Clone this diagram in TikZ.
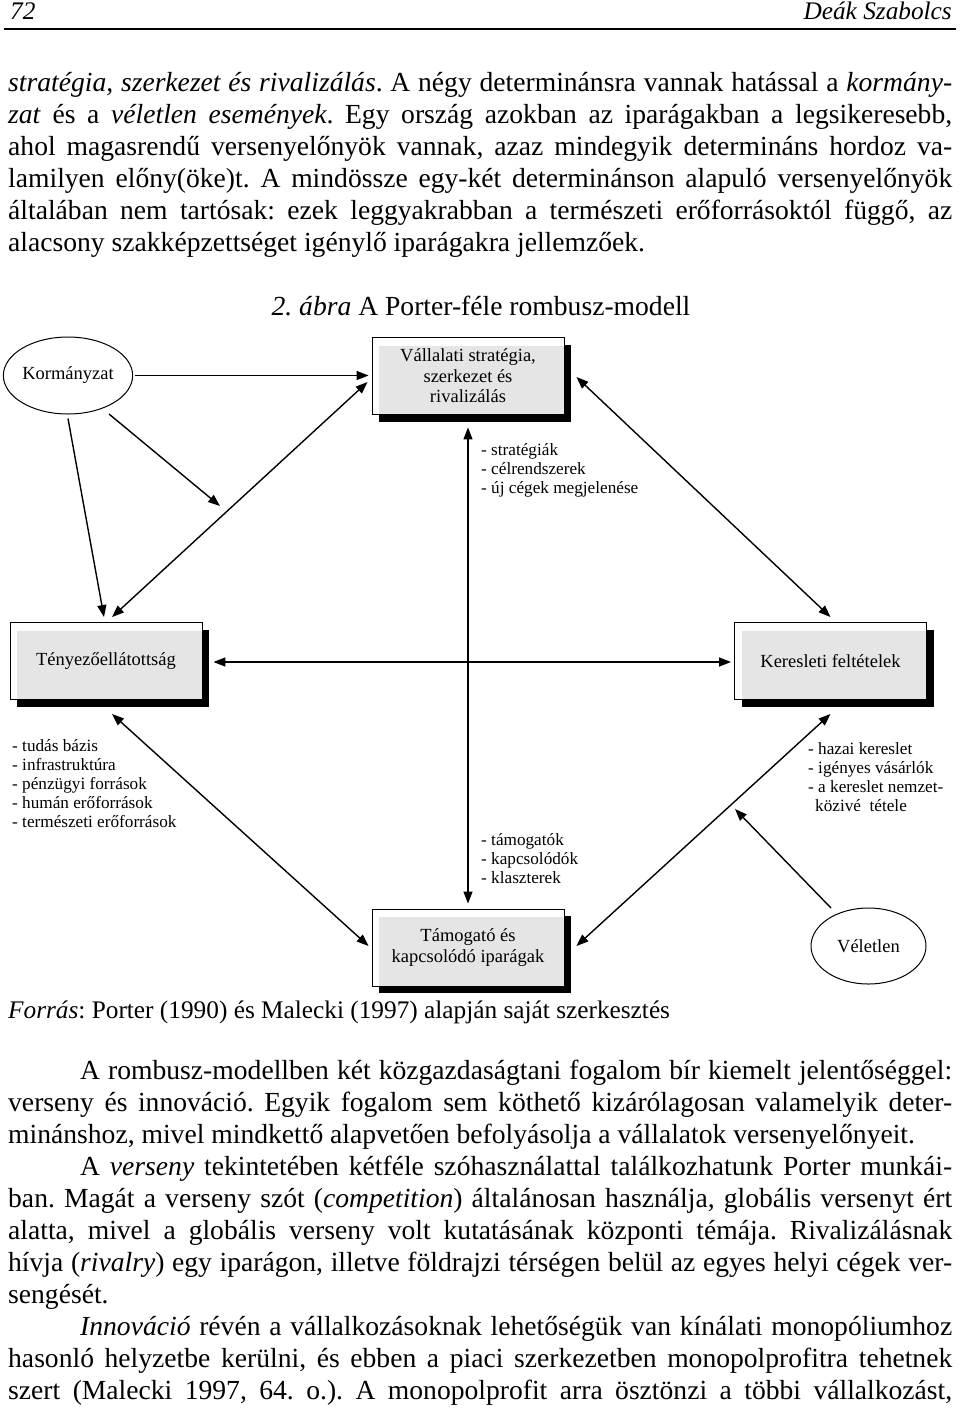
\documentclass[tikz,border=0pt]{standalone}
\usepackage{fontspec}
\setmainfont{Liberation Serif}
\usetikzlibrary{arrows.meta,shapes.geometric,shadows}
\newcommand{\jline}[1]{\makebox[944pt][s]{#1}}
\frenchspacing
\begin{document}
\begin{tikzpicture}[x=1pt,y=-1pt,
  body/.style={anchor=base west, inner sep=0pt, font=\fontsize{27.6}{32}\selectfont\frenchspacing},
  small/.style={anchor=base west, inner sep=0pt, font=\fontsize{25.3}{30}\selectfont\frenchspacing},
  box/.style={draw=black, line width=0.9pt, fill=white, minimum width=192pt, minimum height=77pt,
    inner sep=0pt, align=center, font=\fontsize{18.5}{20.5}\selectfont,
    drop shadow={shadow xshift=7pt, shadow yshift=-7pt, fill=black, opacity=1},
    path picture={\fill[black!10] ([xshift=7pt,yshift=-8pt]path picture bounding box.north west) rectangle (path picture bounding box.south east);}},
  ell/.style={ellipse, draw=black, line width=1pt, fill=white, minimum width=116pt, minimum height=77pt,
    inner sep=0pt, font=\fontsize{18.5}{20.5}\selectfont},
  lst/.style={anchor=base west, inner sep=0pt, align=left, font=\fontsize{17.2}{19.2}\selectfont},
  arr/.style={line width=1.4pt, -{Triangle[length=12pt,width=9pt]}},
  darr/.style={line width=1.4pt, {Triangle[length=12pt,width=9pt]}-{Triangle[length=12pt,width=9pt]}},
]
\useasboundingbox (0,0) rectangle (960,1411);

% header
\node[small, font=\fontsize{25.3}{30}\selectfont\itshape] (pg) at (10,19) {72};
\node[small, anchor=base east, font=\fontsize{25.3}{30}\selectfont\itshape] (au) at (952,19) {Deák Szabolcs};
\draw[line width=1.4pt] (4,29) -- (956,29);

% top paragraph
\node[body] (a1) at (8,91)  {\jline{\textit{stratégia, szerkezet és rivalizálás}. A négy determinánsra vannak hatással a \textit{kormány-}}};
\node[body] (a2) at (8,123) {\jline{\textit{zat} és a \textit{véletlen események}. Egy ország azokban az iparágakban a legsikeresebb,}};
\node[body] (a3) at (8,155) {\jline{ahol magasrendű versenyelőnyök vannak, azaz mindegyik determináns hordoz va-}};
\node[body] (a4) at (8,187) {\jline{lamilyen előny(öke)t. A mindössze egy-két determinánson alapuló versenyelőnyök}};
\node[body] (a5) at (8,219) {\jline{általában nem tartósak: ezek leggyakrabban a természeti erőforrásoktól függő, az}};
\node[body] (a6) at (8,251) {alacsony szakképzettséget igénylő iparágakra jellemzőek.};

% title
\node[body, anchor=base] (title) at (481,315) {\textit{2. ábra} A Porter-féle rombusz-modell};

% diagram nodes
\node[ell] (G) at (68,375.5) {Kormányzat};
\node[box] (V) at (468,376) {Vállalati stratégia,\\szerkezet és\\rivalizálás};
\node[box] (T) at (106,661) {Tényezőellátottság};
\node[box] (D) at (830.5,661) {Keresleti feltételek};
\node[box] (S) at (468,947.5) {Támogató és\\kapcsolódó iparágak};
\node[ell, minimum width=115pt, minimum height=76pt] (C) at (868.5,946) {Véletlen};

% lists (base anchor = baseline of last line)
\node[lst] (l1) at (481,493.4) {- stratégiák\\- célrendszerek\\- új cégek megjelenése};
\node[lst] (l2) at (12,827.8) {- tudás bázis\\- infrastruktúra\\- pénzügyi források\\- humán erőforrások\\- természeti erőforrások};
\node[lst] (l3) at (808,811.6) {- hazai kereslet\\- igényes vásárlók\\- a kereslet nemzet-\\\hspace*{7pt}közivé\ \ tétele};
\node[lst] (l4) at (481,883.4) {- támogatók\\- kapcsolódók\\- klaszterek};

% connectors
\draw[darr] ([shift={(-4,6)}]V.west) -- ([shift={(6,-5)}]T.north);
\draw[darr] ([shift={(12,1)}]V.east) -- ([shift={(0,-5)}]D.north);
\draw[darr] ([shift={(6,14)}]T.south) -- ([shift={(-3,-1.5)}]S.west);
\draw[darr] ([shift={(0,14)}]D.south) -- ([shift={(12,-1.5)}]S.east);
\draw[darr] ([shift={(11,1)}]T.east) -- ([shift={(-3,1)}]D.west);
\draw[darr] ([shift={(0,12.5)}]V.south) -- ([shift={(0,-5)}]S.north);
\draw[arr] ([xshift=2pt]G.east) -- ([shift={(-3,-0.5)}]V.west);
\draw[arr] ([shift={(0,4)}]G.south) -- ([shift={(-2,-5)}]T.north);
\coordinate (gl) at (220,506);
\draw[arr] ([shift={(41,38.5)}]G.center) -- (gl);
\coordinate (cl) at (735,809);
\draw[arr] ([shift={(-37.5,-38)}]C.center) -- (cl);

% source
\node[small] (src) at (8,1018) {\textit{Forrás}: Porter (1990) és Malecki (1997) alapján saját szerkesztés};

% bottom paragraphs
\node[body] (b1)  at (8,1079) {\jline{\hspace*{72pt}A rombusz-modellben két közgazdaságtani fogalom bír kiemelt jelentőséggel:}};
\node[body] (b2)  at (8,1111) {\jline{verseny és innováció. Egyik fogalom sem köthető kizárólagosan valamelyik deter-}};
\node[body] (b3)  at (8,1143) {minánshoz, mivel mindkettő alapvetően befolyásolja a vállalatok versenyelőnyeit.};
\node[body] (b4)  at (8,1175) {\jline{\hspace*{72pt}A \textit{verseny} tekintetében kétféle szóhasználattal találkozhatunk Porter munkái-}};
\node[body] (b5)  at (8,1207) {\jline{ban. Magát a verseny szót (\textit{competition}) általánosan használja, globális versenyt ért}};
\node[body] (b6)  at (8,1239) {\jline{alatta, mivel a globális verseny volt kutatásának központi témája. Rivalizálásnak}};
\node[body] (b7)  at (8,1271) {\jline{hívja (\textit{rivalry}) egy iparágon, illetve földrajzi térségen belül az egyes helyi cégek ver-}};
\node[body] (b8)  at (8,1303) {sengését.};
\node[body] (b9)  at (8,1335) {\jline{\hspace*{72pt}\textit{Innováció} révén a vállalkozásoknak lehetőségük van kínálati monopóliumhoz}};
\node[body] (b10) at (8,1367) {\jline{hasonló helyzetbe kerülni, és ebben a piaci szerkezetben monopolprofitra tehetnek}};
\node[body] (b11) at (8,1399) {\jline{szert (Malecki 1997, 64. o.). A monopolprofit arra ösztönzi a többi vállalkozást,}};
\end{tikzpicture}
\end{document}
